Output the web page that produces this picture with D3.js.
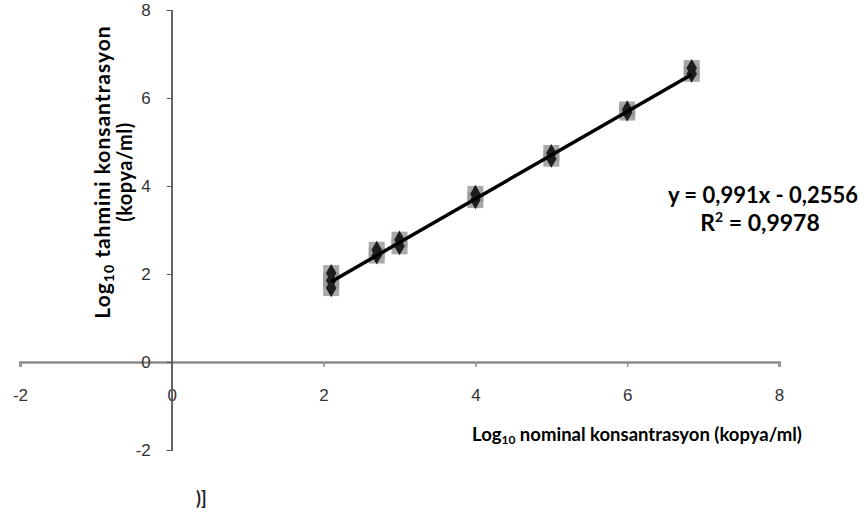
<!DOCTYPE html>
<html>
<head>
<meta charset="utf-8">
<script src="https://cdn.jsdelivr.net/npm/d3@7"></script>
<style>
  body { margin: 0; background: #fff; }
  svg { display: block; font-family: Lato, "Noto Sans", sans-serif; }
</style>
</head>
<body>
<div id="chart"></div>
<script>
var nominal = [2.1, 2.1, 2.1, 2.7, 2.7, 3, 3, 4, 4, 5, 5, 6, 6, 6.85, 6.85];
var estimated = [2.02, 1.85, 1.68, 2.55, 2.42, 2.78, 2.63, 3.82, 3.68, 4.75, 4.62, 5.74, 5.67, 6.68, 6.55];
var xTicks = [-2, 0, 2, 4, 6, 8];
var yTicks = [-2, 0, 2, 4, 6, 8];
var slope = 0.991, intercept = -0.2556;
var fitRange = [2.1, 6.85];
var eqText = "y = 0,991x - 0,2556";
var r2Text = "0,9978";

var width = 868, height = 532;

var svg = d3.select("#chart").append("svg")
  .attr("width", width)
  .attr("height", height);

var x = d3.scaleLinear().domain([-2, 8]).range([20, 779]);
var y = d3.scaleLinear().domain([-2, 8]).range([450, 10]);

var fmt = function (d) { return String(d); }; // plain hyphen for negatives

// x axis (grey, thicker)
var gX = svg.append("g")
  .attr("transform", "translate(0," + y(0) + ")")
  .call(d3.axisBottom(x).tickValues(xTicks).tickSize(5).tickPadding(22).tickFormat(fmt));
gX.select(".domain").attr("stroke", "#8c8c8c").attr("stroke-width", 2.5);
gX.selectAll(".tick line").attr("stroke", "#8c8c8c").attr("stroke-width", 1.5);
gX.selectAll(".tick text").attr("font-size", 17).attr("fill", "#333");

// y axis (thin)
var gY = svg.append("g")
  .attr("transform", "translate(" + x(0) + ",0)")
  .call(d3.axisLeft(y).tickValues(yTicks).tickSize(5).tickPadding(16).tickFormat(fmt));
gY.select(".domain").attr("stroke", "#555").attr("stroke-width", 1.2);
gY.selectAll(".tick line").attr("stroke", "#555");
gY.selectAll(".tick text").attr("font-size", 17).attr("fill", "#333");

// y axis line runs over the x tick label "0"
svg.append("line")
  .attr("x1", x(0)).attr("x2", x(0))
  .attr("y1", y(8)).attr("y2", y(-2))
  .attr("stroke", "#555").attr("stroke-width", 1.2);

var pts = nominal.map(function (d, i) { return { q: d, p: estimated[i] }; });

// grey squares
svg.append("g").selectAll("rect")
  .data(pts)
  .enter().append("rect")
  .attr("x", function (d) { return x(d.q) - 8; })
  .attr("y", function (d) { return y(d.p) - 8; })
  .attr("width", 16)
  .attr("height", 16)
  .attr("fill", "#9a9a9a")
  .attr("opacity", 0.85);

// dark diamonds
svg.append("g").selectAll("path")
  .data(pts)
  .enter().append("path")
  .attr("d", d3.symbol().type(d3.symbolDiamond).size(95))
  .attr("transform", function (d) { return "translate(" + x(d.q) + "," + y(d.p) + ")"; })
  .attr("fill", "#1e1e1e");

// trend line
var fit = fitRange.map(function (v) { return { q: v, p: slope * v + intercept }; });
svg.append("path")
  .datum(fit)
  .attr("d", d3.line().x(function (d) { return x(d.q); }).y(function (d) { return y(d.p); }))
  .attr("stroke", "#000")
  .attr("stroke-width", 3.5)
  .attr("fill", "none");

// equation
svg.append("text")
  .attr("x", 858).attr("y", 203)
  .attr("text-anchor", "end")
  .attr("font-size", 22).attr("font-weight", "bold")
  .text(eqText);
var r2 = svg.append("text")
  .attr("x", 760).attr("y", 231)
  .attr("text-anchor", "middle")
  .attr("font-size", 23).attr("font-weight", "bold");
r2.append("tspan").text("R");
r2.append("tspan").attr("font-size", 14).attr("dy", -9).text("2");
r2.append("tspan").attr("dy", 9).text(" = " + r2Text);

// x title
var xt = svg.append("text")
  .attr("x", 472).attr("y", 441)
  .attr("font-size", 18.5).attr("font-weight", "bold");
xt.append("tspan").text("Log");
xt.append("tspan").attr("font-size", 12).attr("dy", 3).text("10");
xt.append("tspan").attr("dy", -3).text(" nominal konsantrasyon (kopya/ml)");

// y title (two lines, both centred)
var yt = svg.append("text")
  .attr("transform", "translate(110,172) rotate(-90)")
  .attr("text-anchor", "middle")
  .attr("font-size", 21).attr("font-weight", "bold")
  .attr("letter-spacing", 1);
yt.append("tspan").text("Log");
yt.append("tspan").attr("font-size", 14).attr("dy", 4).text("10");
yt.append("tspan").attr("dy", -4).text(" tahmini konsantrasyon");
svg.append("text")
  .attr("transform", "translate(132,172) rotate(-90)")
  .attr("text-anchor", "middle")
  .attr("font-size", 20).attr("font-weight", "bold")
  .attr("letter-spacing", 0.5)
  .text("(kopya/ml)");

// stray fragment at bottom
svg.append("text")
  .attr("x", 196).attr("y", 505)
  .attr("font-size", 18).attr("font-weight", "bold")
  .attr("fill", "#222")
  .text(")]");
</script>
</body>
</html>
